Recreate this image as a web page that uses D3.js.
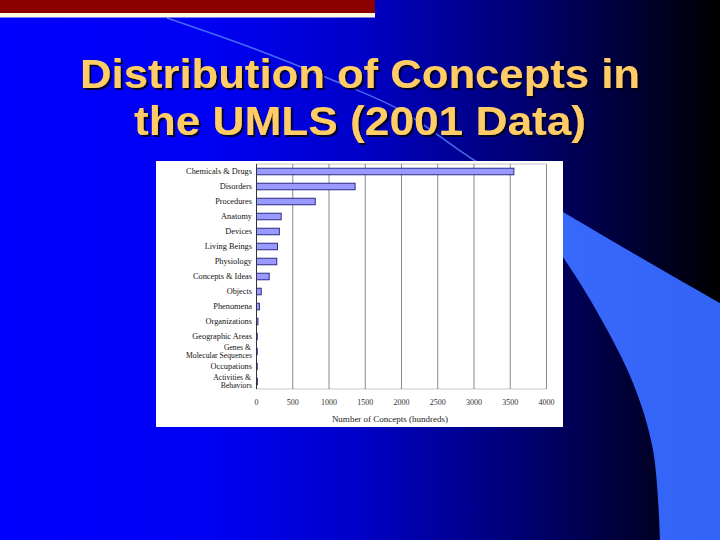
<!DOCTYPE html>
<html><head><meta charset="utf-8">
<script src="https://cdn.jsdelivr.net/npm/d3@7"></script>
<style>html,body{margin:0;padding:0;background:#000;} svg{display:block}</style>
</head><body>
<svg id="c" width="720" height="540"></svg>
<script>
// ---- data ----
const categories = ["Chemicals & Drugs","Disorders","Procedures","Anatomy","Devices","Living Beings","Physiology","Concepts & Ideas","Objects","Phenomena","Organizations","Geographic Areas","Genes & Molecular Sequences","Occupations","Activities & Behaviors"];
const categoryLabelLines = [["Chemicals & Drugs"],["Disorders"],["Procedures"],["Anatomy"],["Devices"],["Living Beings"],["Physiology"],["Concepts & Ideas"],["Objects"],["Phenomena"],["Organizations"],["Geographic Areas"],["Genes &","Molecular Sequences"],["Occupations"],["Activities &","Behaviors"]];
const values = [3550,1360,810,340,315,290,280,175,65,40,20,10,10,10,12]; // hundreds of concepts
const xTicks = [0,500,1000,1500,2000,2500,3000,3500,4000];
const titleLines = ["Distribution of Concepts in","the UMLS (2001 Data)"];
const xAxisTitle = "Number of Concepts (hundreds)";

// ---- slide background ----
const svg = d3.select("#c");
const defs = svg.append("defs");
const bg = defs.append("linearGradient").attr("id","bg").attr("x1","0").attr("x2","1").attr("y1","0").attr("y2","0");
[[0,"#0000ff"],[0.3,"#0000f2"],[0.5,"#0000c8"],[0.7,"#00007c"],[0.85,"#000040"],[1,"#000000"]]
  .forEach(([o,c])=>bg.append("stop").attr("offset",o).attr("stop-color",c));
const band = defs.append("linearGradient").attr("id","band").attr("x1","0").attr("x2","1").attr("y1","0").attr("y2","0");
[[0,"#3a6cff"],[1,"#3363f5"]].forEach(([o,c])=>band.append("stop").attr("offset",o).attr("stop-color",c));
const sh = defs.append("filter").attr("id","sh").attr("x","-10%").attr("y","-20%").attr("width","120%").attr("height","150%");
sh.append("feDropShadow").attr("dx",2).attr("dy",2).attr("stdDeviation",0.6).attr("flood-color","#000018").attr("flood-opacity",0.9);

svg.append("rect").attr("width",720).attr("height",540).attr("fill","url(#bg)");

// swoosh band
const upper = [[167,18],[255,49],[330,79],[400,110],[477,162],[563,212],[650,263],[720,303]];
const lowerEdge = [[660,540],[653,450],[633,383],[600,317],[563,257],[520,200],[478,165]];
const curve = d3.line().curve(d3.curveCatmullRom);
svg.append("path")
  .attr("d", curve(upper.slice(4)) + "L720,540" + curve(lowerEdge).replace(/^M/,"L") + "Z")
  .attr("fill","url(#band)");
svg.append("path").attr("d", curve(upper.slice(0,6)))
  .attr("fill","none").attr("stroke","#5d8cff").attr("stroke-opacity",0.75).attr("stroke-width",1.6);

// red bar
svg.append("rect").attr("x",0).attr("y",0).attr("width",375).attr("height",13).attr("fill","#8c0000");
svg.append("rect").attr("x",0).attr("y",13).attr("width",375).attr("height",4.5).attr("fill","#fffbe0");

// title
const tW = [560,452];
svg.append("g").attr("filter","url(#sh)").selectAll("text").data(titleLines).join("text")
  .attr("x",360).attr("y",(d,i)=>88+i*47)
  .attr("text-anchor","middle")
  .attr("textLength",(d,i)=>tW[i]).attr("lengthAdjust","spacingAndGlyphs")
  .style("font-family","'Liberation Sans', Arial, sans-serif").style("font-weight","bold")
  .style("font-size","41px").attr("fill","#ffcc66").text(d=>d);

// ---- chart panel ----
svg.append("rect").attr("x",156).attr("y",161).attr("width",407).attr("height",266).attr("fill","#ffffff");

const x = d3.scaleLinear().domain([0,4000]).range([256.5,546.5]);
const y = d3.scaleBand().domain(categories).range([164,389]).paddingInner(0.56).paddingOuter(0.28);
const g = svg.append("g");
const font = "'Liberation Serif','Times New Roman',serif";

// gridlines
g.selectAll("line.grid").data(xTicks.slice(1)).join("line").attr("class","grid")
  .attr("x1",d=>x(d)).attr("x2",d=>x(d)).attr("y1",164).attr("y2",389)
  .attr("stroke","#8a8a8a").attr("stroke-width",1);
// frame top / bottom
[164,389].forEach(yy=>g.append("line").attr("x1",x(0)).attr("x2",x(4000)).attr("y1",yy).attr("y2",yy)
  .attr("stroke","#8a8a8a").attr("stroke-width",1).attr("stroke-dasharray","1,1"));

// bars
g.selectAll("rect.bar").data(values).join("rect").attr("class","bar")
  .attr("x",x(0)).attr("y",(d,i)=>y(categories[i]))
  .attr("width",d=>x(d)-x(0)).attr("height",y.bandwidth())
  .attr("fill","#9999ff").attr("stroke","#1c1c78").attr("stroke-width",0.9);

// left axis line
g.append("line").attr("x1",x(0)).attr("x2",x(0)).attr("y1",164).attr("y2",389).attr("stroke","#333").attr("stroke-width",1);

// category labels (multi-line labels written as separate lines)
categories.forEach((c,i)=>{
  const lines = categoryLabelLines[i];
  const cy = y(c)+y.bandwidth()/2;
  if(lines.length===1){
    g.append("text").attr("x",252).attr("y",cy).attr("dy","0.33em").attr("text-anchor","end")
      .style("font-family",font).style("font-size","8.3px").attr("fill","#111").text(lines[0]);
  } else {
    lines.forEach((t,k)=>{
      g.append("text").attr("x",k===0?251:252).attr("y",cy+(k===0?-4.1:4.4)).attr("dy","0.33em").attr("text-anchor","end")
        .style("font-family",font).style("font-size","7.7px").attr("fill","#111").text(t);
    });
  }
});

// x tick labels
g.selectAll("text.xt").data(xTicks).join("text").attr("class","xt")
  .attr("x",d=>x(d)).attr("y",405).attr("text-anchor","middle")
  .style("font-family",font).style("font-size","8px").attr("fill","#333")
  .text(d=>d);

// x axis title
g.append("text").attr("x",390).attr("y",422).attr("text-anchor","middle")
  .style("font-family",font).style("font-size","9px").attr("fill","#222").text(xAxisTitle);
</script>
</body></html>
